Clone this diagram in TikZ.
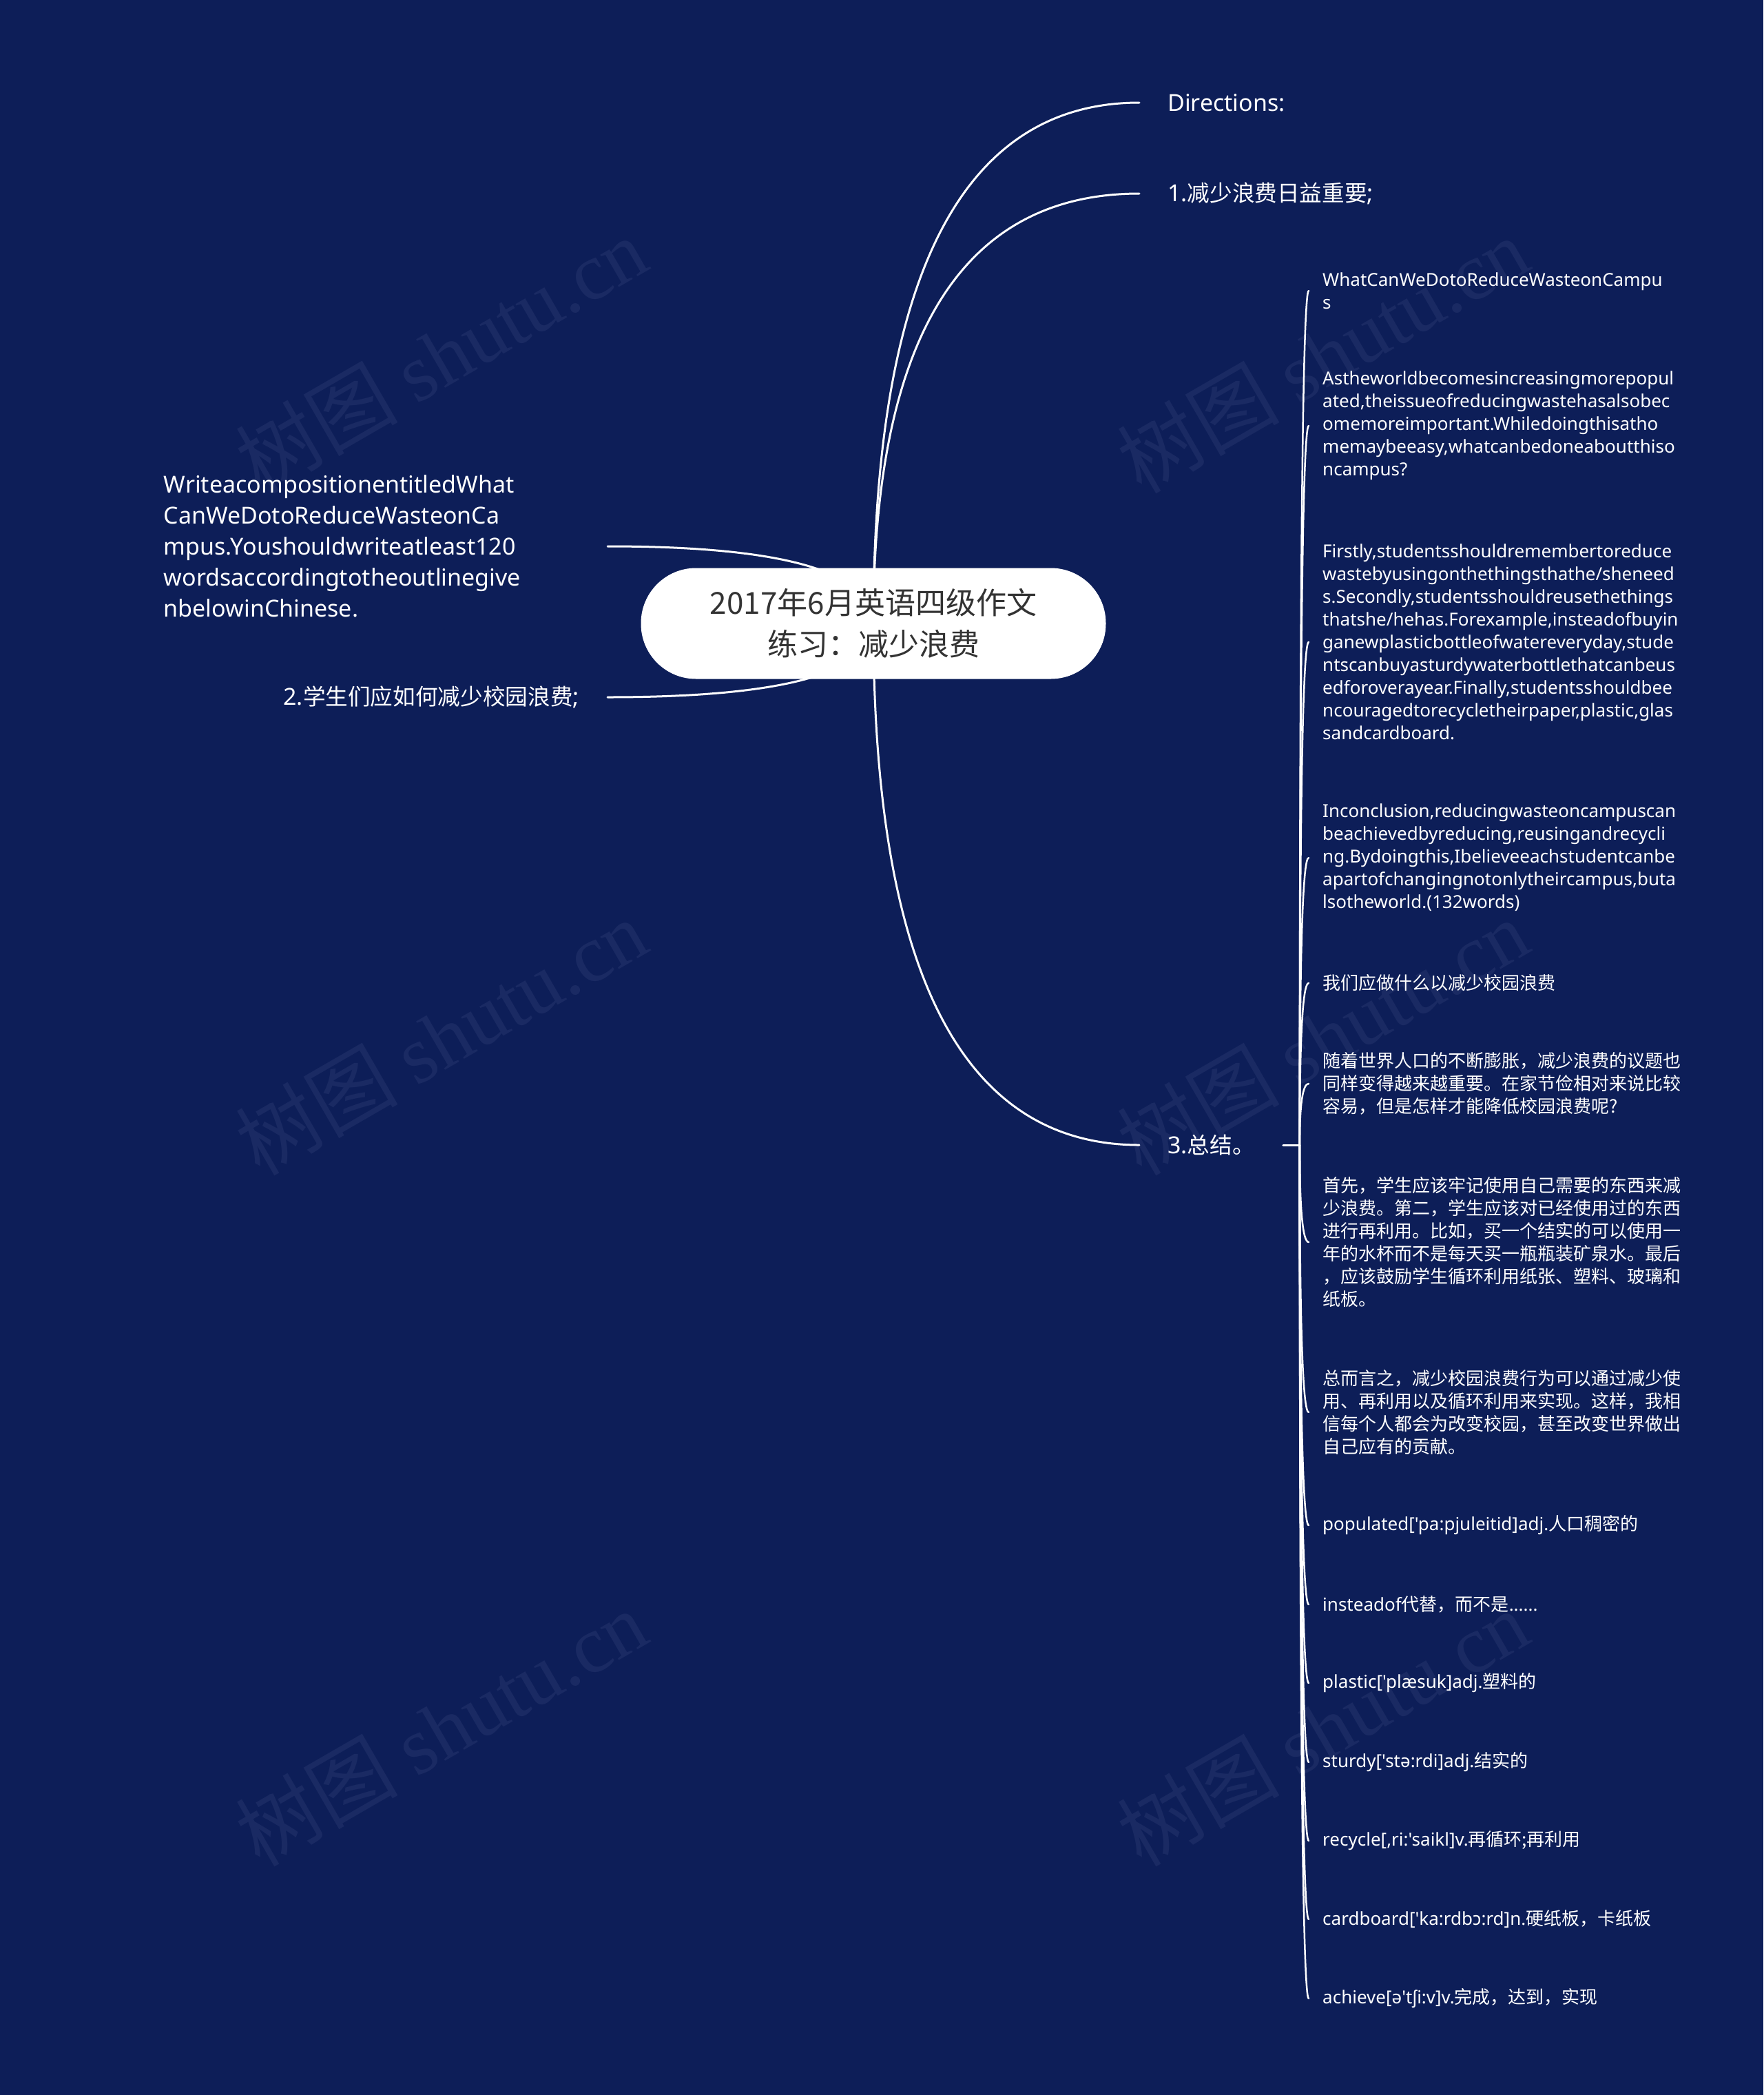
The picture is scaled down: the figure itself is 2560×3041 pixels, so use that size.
\documentclass[tikz,border=0pt]{standalone}
\usepackage{fontspec}
\usetikzlibrary{calc}
\newfontfamily\lat{Noto Sans}
\newfontfamily\cjk{Noto Sans CJK SC}
\newfontfamily\cjkb{Noto Sans CJK SC}[Scale=0.96]
\newfontfamily\wmlat{Liberation Serif}
\newcommand\cj[1]{{\cjkb #1}}
\newcommand\cs[1]{{\cjk #1}}
\definecolor{bgblue}{RGB}{13,30,88}
\definecolor{wmcol}{RGB}{26,42,99}
\definecolor{roottext}{RGB}{51,51,51}
\pgfdeclarelayer{bglayer}
\pgfdeclarelayer{connlayer}
\pgfsetlayers{bglayer,connlayer,main}
\tikzset{
  rootnode/.style={fill=white, rounded corners=80pt, minimum width=675pt, minimum height=161pt, text=roottext, align=center, font=\cjk\fontsize{44}{60}\selectfont, inner sep=0pt},
  lvone/.style={text=white, font=\lat\fontsize{34}{45}\selectfont, inner xsep=41pt, inner ysep=0pt},
  leaf/.style={text=white, font=\lat\fontsize{26}{33}\selectfont, align=left, inner xsep=20pt, inner ysep=0pt, anchor=west},
  leafcj/.style={leaf, font=\cjk\fontsize{26}{33}\selectfont},
  conn/.style={draw=white, line width=3pt, line cap=round},
  kidconn/.style={draw=white, line width=2.5pt, line cap=round},
  wmark/.style={text=wmcol, font=\fontsize{118}{118}\selectfont, rotate=30, inner sep=0pt},
}
\begin{document}
\begin{tikzpicture}[x=1pt,y=-1pt]
\begin{pgfonlayer}{bglayer}
\fill[bgblue] (0,0) rectangle (2560,3041);
\foreach \wx/\wy [count=\wi] in {640/515, 640/1505, 640/2508, 1920/515, 1920/1505, 1920/2508}
  \node[wmark, name=wm\wi] at (\wx,\wy) {\cjk 树图 \wmlat shutu.cn};
\end{pgfonlayer}
\useasboundingbox (0,0) rectangle (2560,3041);

% root
\node[rootnode] (root) at (1268,905) {2017年6月英语四级作文\\练习：减少浪费};

% level one
\node[lvone, anchor=west] (dir) at (1654,149) {Directions:};
\node[lvone, anchor=west] (p1) at (1654,281) {1.\cj{减少浪费日益重要};};
\node[lvone, anchor=west] (p3) at (1654,1662) {3.\cj{总结。}};
\node[lvone, anchor=east] (p2) at (882,1012) {2.\cj{学生们应如何减少校园浪费};};
\node[lvone, anchor=east, text width=603pt, align=left] (wr) at (882,793) {WriteacompositionentitledWhat\\CanWeDotoReduceWasteonCa\\mpus.Youshouldwriteatleast120\\wordsaccordingtotheoutlinegive\\nbelowinChinese.};

\coordinate (b3) at ($(p3.east)+(24,0)$);

% leaves
\node[leaf] (c1) at (1900,422) {WhatCanWeDotoReduceWasteonCampu\\s};
\node[leaf] (c2) at (1900,618) {Astheworldbecomesincreasingmorepopul\\ated,theissueofreducingwastehasalsobec\\omemoreimportant.Whiledoingthisatho\\memaybeeasy,whatcanbedoneaboutthiso\\ncampus?};
\node[leaf] (c3) at (1900,932) {Firstly,studentsshouldremembertoreduce\\wastebyusingonthethingsthathe/sheneed\\s.Secondly,studentsshouldreusethethings\\thatshe/hehas.Forexample,insteadofbuyin\\ganewplasticbottleofwatereveryday,stude\\ntscanbuyasturdywaterbottlethatcanbeus\\edforoverayear.Finally,studentsshouldbee\\ncouragedtorecycletheirpaper,plastic,glas\\sandcardboard.};
\node[leaf] (c4) at (1900,1245) {Inconclusion,reducingwasteoncampuscan\\beachievedbyreducing,reusingandrecycli\\ng.Bydoingthis,Ibelieveeachstudentcanbe\\apartofchangingnotonlytheircampus,buta\\lsotheworld.(132words)};
\node[leafcj] (c5) at (1900,1427) {我们应做什么以减少校园浪费};
\node[leafcj] (c6) at (1900,1573) {随着世界人口的不断膨胀，减少浪费的议题也\\同样变得越来越重要。在家节俭相对来说比较\\容易，但是怎样才能降低校园浪费呢?};
\node[leafcj] (c7) at (1900,1803) {首先，学生应该牢记使用自己需要的东西来减\\少浪费。第二，学生应该对已经使用过的东西\\进行再利用。比如，买一个结实的可以使用一\\年的水杯而不是每天买一瓶瓶装矿泉水。最后\\，应该鼓励学生循环利用纸张、塑料、玻璃和\\纸板。};
\node[leafcj] (c8) at (1900,2050) {总而言之，减少校园浪费行为可以通过减少使\\用、再利用以及循环利用来实现。这样，我相\\信每个人都会为改变校园，甚至改变世界做出\\自己应有的贡献。};
\node[leaf] (c9) at (1900,2214) {populated['pa:pjuleitid]adj.\cs{人口稠密的}};
\node[leaf] (c10) at (1900,2329) {insteadof\cs{代替，而不是}......};
\node[leaf] (c11) at (1900,2443) {plastic['plæsuk]adj.\cs{塑料的}};
\node[leaf] (c12) at (1900,2558) {sturdy['stə:rdi]adj.\cs{结实的}};
\node[leaf] (c13) at (1900,2672) {recycle[,ri:'saikl]v.\cs{再循环;再利用}};
\node[leaf] (c14) at (1900,2786) {cardboard['ka:rdbɔ:rd]n.\cs{硬纸板，卡纸板}};
\node[leaf] (c15) at (1900,2901) {achieve[ə'tʃi:v]v.\cs{完成，达到，实现}};

\begin{pgfonlayer}{connlayer}
\foreach \t in {dir,p1,p3}
  \draw[conn] (root.center) .. controls ($(root.center)!2/3!(root.center |- \t.west)$) and ($(\t.west)!2/3!(root.center |- \t.west)$) .. (\t.west);
\foreach \t in {wr,p2}
  \draw[conn] (root.center) .. controls ($(root.center)!2/3!(root.center |- \t.east)$) and ($(\t.east)!2/3!(root.center |- \t.east)$) .. (\t.east);
\draw[conn] (p3.east) -- (b3);
\foreach \k in {1,...,15}
  \draw[kidconn] (b3) .. controls ($(b3)!2/3!(b3 |- c\k.west)$) and ($(c\k.west)!2/3!(b3 |- c\k.west)$) .. (c\k.west);
\end{pgfonlayer}
\end{tikzpicture}
\end{document}
